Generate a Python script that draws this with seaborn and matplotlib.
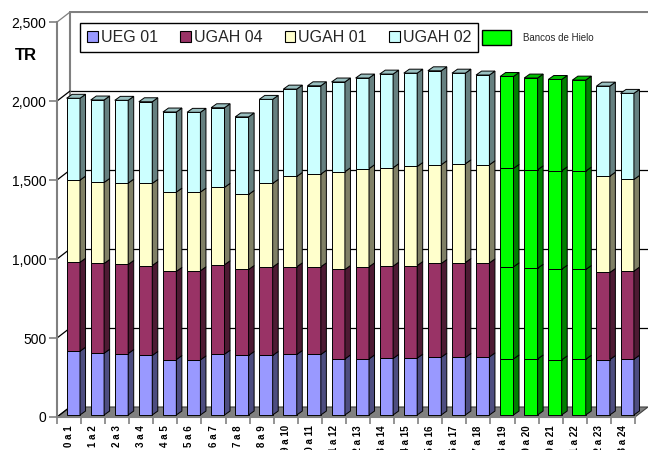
import matplotlib
matplotlib.use("Agg")
import matplotlib.pyplot as plt
from matplotlib.patches import Polygon, Patch
import seaborn as sns

# ---------------- data ----------------
categories = ["0 a 1", "1 a 2", "2 a 3", "3 a 4", "4 a 5", "5 a 6", "6 a 7", "7 a 8",
              "8 a 9", "9 a 10", "10 a 11", "11 a 12", "12 a 13", "13 a 14", "14 a 15",
              "15 a 16", "16 a 17", "17 a 18", "18 a 19", "19 a 20", "20 a 21", "21 a 22",
              "22 a 23", "23 a 24"]
ueg01 = [404, 391, 389, 377, 351, 349, 385, 377, 377, 383, 383, 355,
         355, 358, 360, 366, 364, 368, 355, 355, 349, 353, 351, 353]
ugah04 = [563, 568, 564, 569, 558, 564, 566, 544, 559, 555, 555, 566,
          583, 584, 586, 593, 601, 595, 583, 574, 574, 568, 551, 558]
ugah01 = [520, 513, 515, 520, 502, 498, 490, 475, 530, 572, 587, 619,
          621, 623, 627, 625, 625, 621, 623, 623, 623, 623, 610, 580]
ugah02 = [518, 522, 524, 517, 507, 505, 504, 491, 532, 553, 559, 568,
          574, 593, 591, 595, 574, 568, 582, 581, 578, 576, 570, 545]
bancos_hielo = [False] * 18 + [True] * 4 + [False] * 2
series_names = ["UEG 01", "UGAH 04", "UGAH 01", "UGAH 02"]
banco_name = "Bancos de Hielo"
yticks = [0, 500, 1000, 1500, 2000, 2500]

# ---------------- style ----------------
sns.set_theme(style="white")
plt.rcParams["font.family"] = ["Liberation Sans", "DejaVu Sans"]

front_cols = ["#9999FF", "#993366", "#FFFFCC", "#CCFFFF"]
side_cols = ["#4D4D80", "#4D1A33", "#808066", "#668080"]
top_cols = ["#7373BF", "#73264D", "#BFBF99", "#99BFBF"]
green_front, green_side, green_top = "#00FF00", "#008000", "#00BF00"

W, H = 648, 450
fig = plt.figure(figsize=(W / 100, H / 100), dpi=100)
ax = fig.add_axes([57 / W, 33 / H, 591 / W, 406 / H])
n = len(categories)
DX, DY = 0.54, 63.3          # floor / wall depth (data units)
ax.set_xlim(0, n + DX)
ax.set_ylim(0, 2570)
ax.patch.set_alpha(0)

# floor
ax.add_patch(Polygon([(0, 0), (n, 0), (n + DX, DY), (DX, DY)], closed=True,
                     facecolor="#808080", edgecolor="#404040", lw=0.8, zorder=1))
# back wall
ax.add_patch(Polygon([(DX, DY), (n + DX, DY), (n + DX, 2500 + DY), (DX, 2500 + DY)],
                     closed=True, facecolor="white", edgecolor="none", zorder=0.5))
for v in yticks[1:-1]:
    ax.plot([DX, n + DX], [v + DY, v + DY], color="black", lw=0.9, zorder=1)
ax.plot([DX, n + DX], [2500 + DY, 2500 + DY], color="#808080", lw=1.5, zorder=1)
ax.plot([DX, DX], [DY, 2500 + DY], color="#808080", lw=1.5, zorder=1)
for v in yticks:
    ax.plot([0, DX], [v, v + DY], color="black" if v < 2500 else "#808080",
            lw=0.9, zorder=1)

# bars (3D look)
B0 = 12.7
bx, bw = 0.40, 0.555
bdx, bdy = 0.23, 25
stack = [ueg01, ugah04, ugah01, ugah02]
for i in range(n):
    bottom = B0
    green = bancos_hielo[i]
    for s, vals in enumerate(stack):
        h = vals[i]
        fc = green_front if green else front_cols[s]
        sc = green_side if green else side_cols[s]
        x0 = i + bx
        x1 = x0 + bw
        ax.bar(x0, h, width=bw, bottom=bottom, align="edge", color=fc,
               edgecolor="black", linewidth=0.7, zorder=3)
        ax.add_patch(Polygon([(x1, bottom), (x1 + bdx, bottom + bdy),
                              (x1 + bdx, bottom + h + bdy), (x1, bottom + h)],
                             closed=True, facecolor=sc, edgecolor="black",
                             lw=0.7, zorder=3))
        bottom += h
        if s == len(stack) - 1:
            tc = green_top if green else top_cols[s]
            ax.add_patch(Polygon([(x0, bottom), (x1, bottom), (x1 + bdx, bottom + bdy),
                                  (x0 + bdx, bottom + bdy)], closed=True,
                                 facecolor=tc, edgecolor="black", lw=0.7, zorder=3))

# axes / ticks
for sp in ["top", "right"]:
    ax.spines[sp].set_visible(False)
ax.spines["left"].set_bounds(0, 2500)
ax.spines["bottom"].set_bounds(0, n)
for sp in ["left", "bottom"]:
    ax.spines[sp].set_color("#808080")
    ax.spines[sp].set_linewidth(1.5)
    ax.spines[sp].set_zorder(4)
ax.set_yticks(yticks)
ax.set_yticklabels([f"{v:,}" for v in yticks])
ax.tick_params(axis="y", which="major", direction="out", length=6, width=1.2,
               color="#808080", labelsize=10, pad=1.5, left=True, labelcolor="black")
ax.set_xticks(range(n + 1))
ax.set_xticklabels([])
ax.tick_params(axis="x", which="major", direction="out", length=5, width=1.2,
               color="#808080", bottom=True)
ax.set_xticks([i + 0.5 for i in range(n)], minor=True)
ax.set_xticklabels(categories, minor=True, rotation=90, fontsize=7,
                   fontweight="bold", va="top", ha="center")
ax.tick_params(axis="x", which="minor", length=0, pad=6, labelcolor="black")
ax.grid(False)

fig.text(15 / W, 1 - 55 / H, "TR", fontsize=12, fontweight="bold", va="center",
         ha="left", color="black")

# legends
handles = [Patch(facecolor=c, edgecolor="black", lw=0.8) for c in front_cols]
leg = fig.legend(handles, series_names, ncol=4, loc="upper left",
                 bbox_to_anchor=(80 / W, 1 - 23 / H), bbox_transform=fig.transFigure,
                 borderaxespad=0, fontsize=11.5, handlelength=0.65, handleheight=0.65,
                 handletextpad=0.2, columnspacing=1.4, borderpad=0.45,
                 frameon=True, fancybox=False, framealpha=1, edgecolor="black")
leg.get_frame().set_linewidth(1.0)
leg2 = fig.legend([Patch(facecolor=green_front, edgecolor="black", lw=1)], [banco_name],
                  loc="center left", bbox_to_anchor=(478 / W, 1 - 37.5 / H),
                  bbox_transform=fig.transFigure, borderaxespad=0, fontsize=7,
                  handlelength=3.0, handleheight=2.0, handletextpad=1.2, frameon=False)

fig.savefig("out.png", dpi=100)
